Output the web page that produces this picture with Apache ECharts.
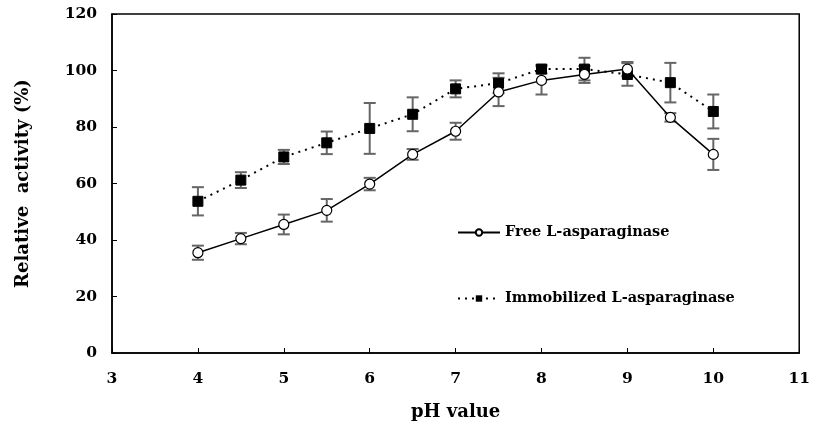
<!DOCTYPE html>
<html>
<head>
<meta charset="utf-8">
<script src="https://cdn.jsdelivr.net/npm/echarts@6/dist/echarts.min.js"></script>
<style>
html, body { margin: 0; padding: 0; background: #fff; }
#chart { width: 813px; height: 430px; }
</style>
</head>
<body>
<div id="chart"></div>
<script>
// pH 对活性的影响
var phValues = [4, 4.5, 5, 5.5, 6, 6.5, 7, 7.5, 8, 8.5, 9, 9.5, 10];
var freeActivity = [35.5, 40.5, 45.5, 50.5, 59.8, 70.3, 78.5, 92.4, 96.5, 98.6, 100.5, 83.4, 70.3];
var freeError = [2.5, 2, 3.5, 4, 2.2, 1.9, 3, 5, 5, 3, 2.5, 1.5, 5.5];
var immobActivity = [53.7, 61.2, 69.4, 74.4, 79.5, 84.5, 93.5, 95.5, 100.5, 100.5, 98.6, 95.7, 85.5];
var immobError = [5, 2.8, 2.5, 4, 9, 6, 3, 3.5, 1.5, 4, 4, 7, 6];

var fontName = 'DejaVu Serif';

(function () {
    var chart = echarts.init(document.getElementById('chart'));

    function pairs(ys) {
        return phValues.map(function (x, i) { return [x, ys[i]]; });
    }
    function errData(ys, es) {
        return phValues.map(function (x, i) { return [x, ys[i] - es[i], ys[i] + es[i]]; });
    }
    function errRender(params, api) {
        var lo = api.coord([api.value(0), api.value(1)]);
        var hi = api.coord([api.value(0), api.value(2)]);
        var w = 6;
        var st = { stroke: '#666', lineWidth: 2 };
        return {
            type: 'group',
            children: [
                { type: 'line', shape: { x1: lo[0], y1: lo[1], x2: hi[0], y2: hi[1] }, style: st },
                { type: 'line', shape: { x1: lo[0] - w, y1: lo[1], x2: lo[0] + w, y2: lo[1] }, style: st },
                { type: 'line', shape: { x1: hi[0] - w, y1: hi[1], x2: hi[0] + w, y2: hi[1] }, style: st }
            ]
        };
    }

    var legendText = { fontFamily: fontName, fontWeight: 'bold', fontSize: 14.5, color: '#000' };
    var tickLabel = { fontFamily: fontName, fontWeight: 'bold', fontSize: 15.5, color: '#000' };
    var titleText = { fontFamily: fontName, fontWeight: 'bold', fontSize: 18, color: '#000' };

    var option = {
        animation: false,
        backgroundColor: '#fff',
        grid: {
            left: 112, right: 12, top: 14, bottom: 77,
            show: true, borderColor: '#000', borderWidth: 1.5
        },
        legend: [
            {
                data: ['Free L-asparaginase'], left: 452, top: 220,
                itemWidth: 42, itemHeight: 8, textStyle: legendText
            },
            {
                data: ['Immobilized L-asparaginase'], left: 452, top: 286,
                itemWidth: 42, itemHeight: 8, textStyle: legendText
            }
        ],
        xAxis: {
            type: 'value', min: 3, max: 11, interval: 1,
            name: 'pH value', nameLocation: 'middle', nameGap: 50,
            nameTextStyle: titleText,
            axisLine: { lineStyle: { color: '#000', width: 1.5 } },
            axisTick: { inside: true, length: 5, lineStyle: { color: '#000' } },
            axisLabel: Object.assign({ margin: 18 }, tickLabel),
            splitLine: { show: false }
        },
        yAxis: {
            type: 'value', min: 0, max: 120, interval: 20,
            name: 'Relative  activity (%)', nameLocation: 'middle', nameGap: 80, nameRotate: 90,
            nameTextStyle: titleText,
            axisLine: { lineStyle: { color: '#000', width: 1.5 } },
            axisTick: { inside: true, length: 5, lineStyle: { color: '#000' } },
            axisLabel: Object.assign({ margin: 15 }, tickLabel),
            splitLine: { show: false }
        },
        series: [
            {
                type: 'custom', name: 'freeErr', renderItem: errRender,
                data: errData(freeActivity, freeError), z: 1, silent: true
            },
            {
                type: 'custom', name: 'immobErr', renderItem: errRender,
                data: errData(immobActivity, immobError), z: 1, silent: true
            },
            {
                name: 'Immobilized L-asparaginase', type: 'line', data: pairs(immobActivity),
                symbol: 'rect', symbolSize: 10,
                itemStyle: { color: '#000', borderColor: '#000' },
                lineStyle: { color: '#000', width: 2, type: [2, 5] },
                z: 3
            },
            {
                name: 'Free L-asparaginase', type: 'line', data: pairs(freeActivity),
                symbol: 'circle', symbolSize: 10,
                itemStyle: { color: '#fff', borderColor: '#000', borderWidth: 1.2 },
                lineStyle: { color: '#000', width: 1.5 },
                z: 4
            }
        ]
    };

    chart.setOption(option);
})();
</script>
</body>
</html>
